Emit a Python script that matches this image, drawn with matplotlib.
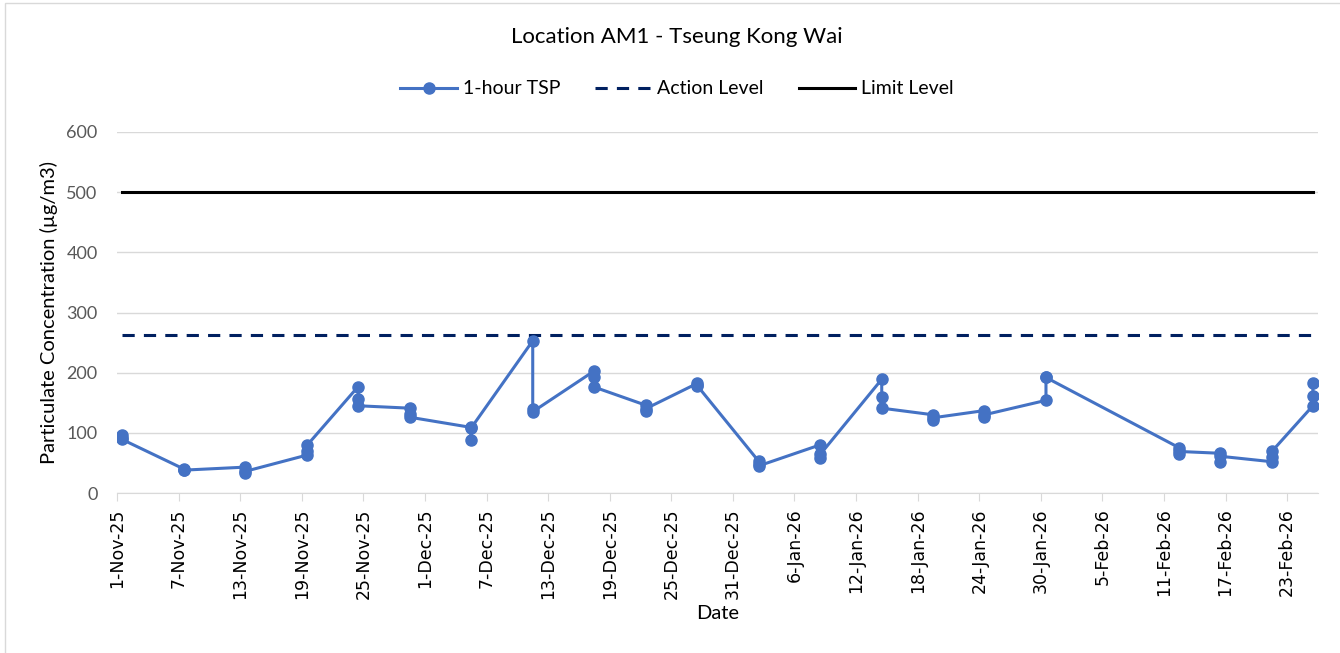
import matplotlib
matplotlib.use("Agg")
import matplotlib.pyplot as plt
from matplotlib.patches import Rectangle
import pandas as pd

# ─────────────────────────────────────────────
# DATA  (3 x 1-hour TSP per monitoring day)
# ─────────────────────────────────────────────
sample_dates = [
    "2025-11-01", "2025-11-01", "2025-11-01",
    "2025-11-07", "2025-11-07", "2025-11-07",
    "2025-11-13", "2025-11-13", "2025-11-13",
    "2025-11-19", "2025-11-19", "2025-11-19",
    "2025-11-24", "2025-11-24", "2025-11-24",
    "2025-11-29", "2025-11-29", "2025-11-29",
    "2025-12-05", "2025-12-05", "2025-12-05",
    "2025-12-11", "2025-12-11", "2025-12-11",
    "2025-12-17", "2025-12-17", "2025-12-17",
    "2025-12-22", "2025-12-22", "2025-12-22",
    "2025-12-27", "2025-12-27", "2025-12-27",
    "2026-01-02", "2026-01-02", "2026-01-02",
    "2026-01-08", "2026-01-08", "2026-01-08",
    "2026-01-14", "2026-01-14", "2026-01-14",
    "2026-01-19", "2026-01-19", "2026-01-19",
    "2026-01-24", "2026-01-24", "2026-01-24",
    "2026-01-30", "2026-01-30", "2026-01-30",
    "2026-02-12", "2026-02-12", "2026-02-12",
    "2026-02-16", "2026-02-16", "2026-02-16",
    "2026-02-21", "2026-02-21", "2026-02-21",
    "2026-02-25", "2026-02-25", "2026-02-25",
]
tsp_values = [
    97, 92, 89,
    40, 38, 38,
    43, 33, 36,
    63, 70, 79,
    177, 156, 145,
    141, 131, 126,
    109, 88, 108,
    253, 140, 135,
    203, 192, 176,
    146, 136, 140,
    182, 178, 179,
    53, 48, 45,
    80, 58, 64,
    189, 159, 141,
    130, 122, 125,
    137, 127, 130,
    154, 193, 192,
    75, 64, 69,
    66, 52, 61,
    52, 60, 69,
    145, 161, 182,
]
ACTION_LEVEL = 263
LIMIT_LEVEL = 500

axis_start, axis_end = "2025-11-01", "2026-02-26"
tick_step_days = 6

BLUE, NAVY, GRID = "#4472C4", "#002060", "#D9D9D9"
FONT = "Lato"

# Excel date axis: each value sits in the middle of its day
x = pd.to_datetime(sample_dates) + pd.Timedelta(hours=12)
action = [ACTION_LEVEL] * len(x)
limit = [LIMIT_LEVEL] * len(x)

# ─────────────────────────────────────────────
# FIGURE
# ─────────────────────────────────────────────
fig = plt.figure(figsize=(13.4, 6.53), dpi=100)
ax = fig.add_axes([117 / 1340, 1 - 493 / 653, (1318 - 117) / 1340, (493 - 132) / 653])

ax.plot(x, tsp_values, color=BLUE, lw=2.2, marker="o", markersize=8,
        label="1-hour TSP", zorder=4)
ax.plot(x, action, color=NAVY, lw=2.2, linestyle=(0, (4, 3)),
        label="Action Level", zorder=3)
ax.plot(x, limit, color="black", lw=2.2, label="Limit Level", zorder=3)

ax.set_xlim(pd.Timestamp(axis_start), pd.Timestamp(axis_end))
ax.set_ylim(0, 600)
ax.set_yticks(range(0, 601, 100))
ticks = pd.date_range(axis_start, axis_end, freq=f"{tick_step_days}D")
ax.set_xticks(ticks)
ax.set_xticklabels([f"{d.day}-{d.strftime('%b-%y')}" for d in ticks],
                   rotation=90, fontsize=12.5, family="DejaVu Sans", color="#000000")

ax.grid(axis="y", color=GRID, lw=1)
ax.set_axisbelow(True)
for side in ["top", "right", "left"]:
    ax.spines[side].set_visible(False)
ax.spines["bottom"].set_color(GRID)
ax.tick_params(axis="y", length=0, pad=14, labelsize=13, labelcolor="#595959")
ax.tick_params(axis="x", length=6, color=GRID, pad=5)
for lbl in ax.get_yticklabels():
    lbl.set_family(FONT)

ax.set_ylabel("Particulate Concentration (µg/m3)", family=FONT, fontsize=14.5,
              color="black", labelpad=6)
ax.set_xlabel("Date", family=FONT, fontsize=14.5, color="black", labelpad=4)

fig.text(677 / 1340, 1 - 37 / 653, "Location AM1 - Tseung Kong Wai",
         ha="center", va="center", family=FONT, fontsize=16)
fig.legend(loc="center", bbox_to_anchor=(677 / 1340, 1 - 89 / 653), ncol=3,
           frameon=False, prop={"family": FONT, "size": 14},
           handlelength=2.9, handletextpad=0.3, columnspacing=1.8)

# chart-area border (only left/top visible in the crop)
fig.add_artist(Rectangle((5 / 1340, -0.05), 1.2, 1.05 - 3 / 653,
                         transform=fig.transFigure, fill=False,
                         edgecolor="#D9D9D9", lw=1))

fig.savefig("out.png", dpi=100, facecolor="white")
